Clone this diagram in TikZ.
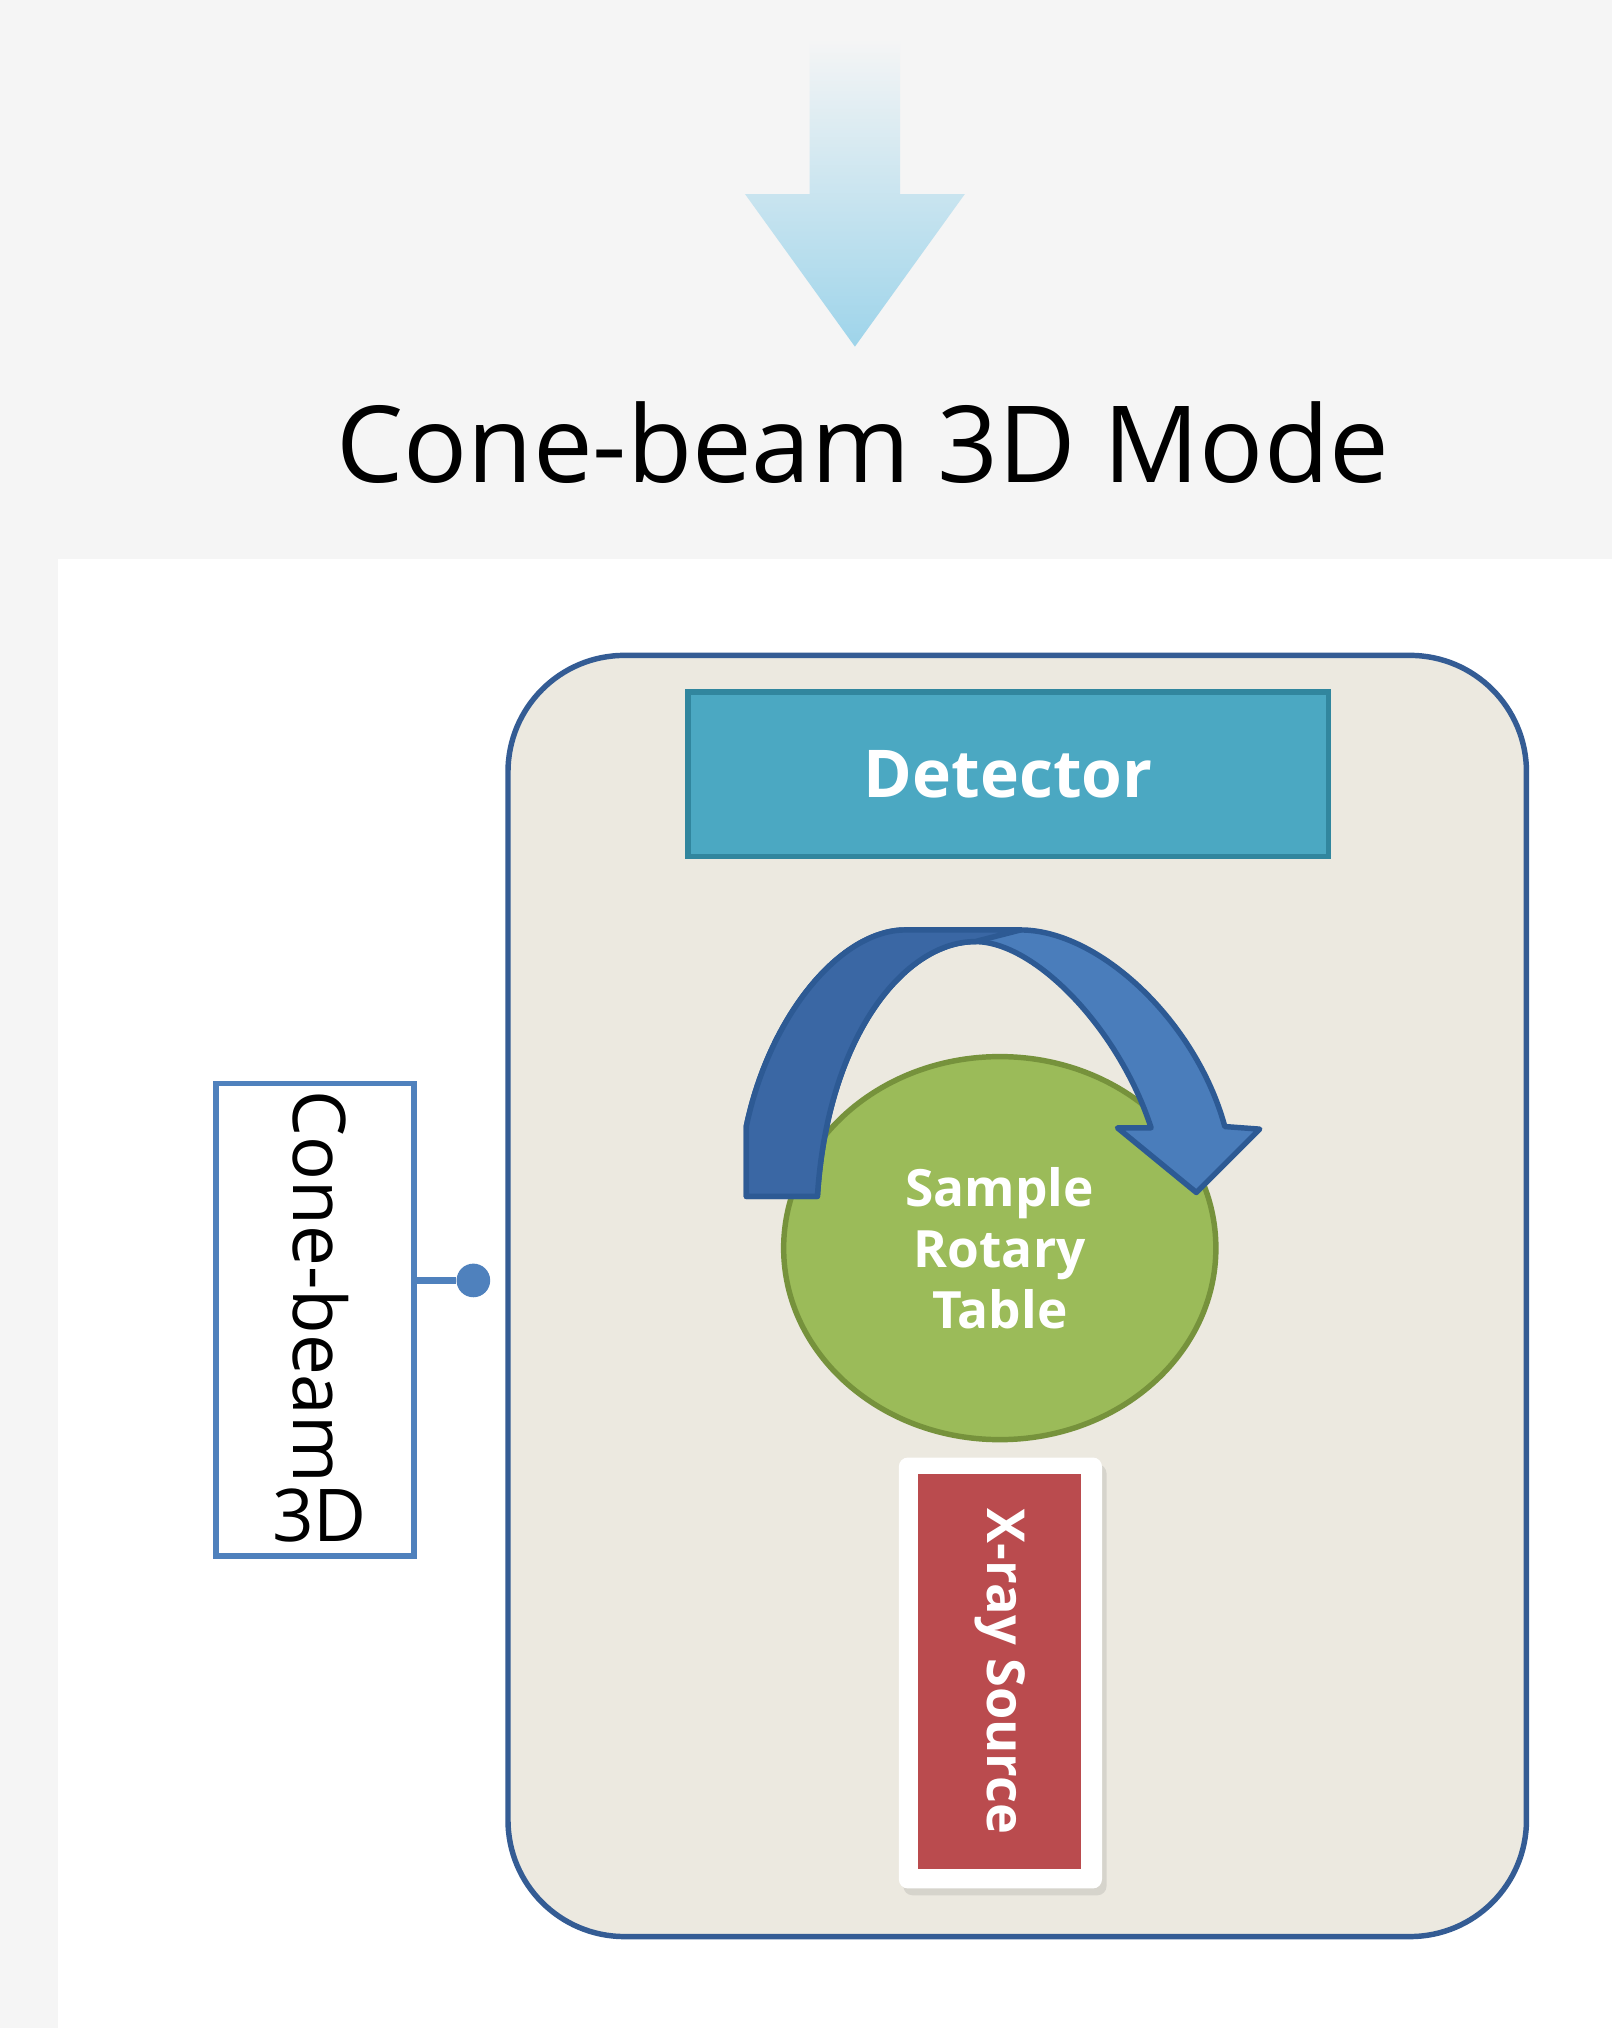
\documentclass[tikz,border=0pt]{standalone}
\usepackage{fontspec}
\setmainfont{Open Sans}
\usetikzlibrary{shapes.geometric,shadows}
\definecolor{bggray}{HTML}{F5F5F5}
\definecolor{beamblue}{HTML}{9ED4EA}
\definecolor{chamberfill}{HTML}{ECE9E0}
\definecolor{chamberline}{HTML}{345C94}
\definecolor{detfill}{HTML}{4BA8C2}
\definecolor{detline}{HTML}{31869E}
\definecolor{tablefill}{HTML}{9BBB59}
\definecolor{tableline}{HTML}{76923C}
\definecolor{rotfill}{HTML}{4A7DBB}
\definecolor{rotdark}{HTML}{3A67A4}
\definecolor{rotline}{HTML}{2D5A94}
\definecolor{srcfill}{HTML}{BA4B4E}
\definecolor{tagline}{HTML}{4F81BD}
\tikzset{
  partlabel/.style={text=white,font=\bfseries},
  thickline/.style={line width=1.2pt}
}
\begin{document}
\begin{tikzpicture}[x=0.01cm,y=-0.01cm]
	    \useasboundingbox (0,0) rectangle (1246,1568);
	    \fill[bggray] (0,0) rectangle (1246,1568);
	    \fill[white] (45,432) rectangle (1246,1568);
	    \shade[top color=bggray,bottom color=beamblue] (626,30) -- (696,30) -- (696,150) -- (746,150) -- (661,268) -- (576,150) -- (626,150) -- cycle;
	    \node[anchor=base,font=\fontsize{23.4}{28}\selectfont] (title) at (667,373) {Cone-beam 3D Mode};
	    
	    \node[thickline,draw=chamberline,fill=chamberfill,rounded corners=0.9cm,minimum width=7.87cm,minimum height=9.9cm] (chamber) at (786.5,1002) {};
	    \node[thickline,draw=detline,fill=detfill,minimum width=4.95cm,minimum height=1.27cm,partlabel,font=\fontsize{14.5}{17}\selectfont\bfseries] (detector) at (779.5,598.5) {Detector};
	    \node[thickline,ellipse,draw=tableline,fill=tablefill,minimum width=3.34cm,minimum height=2.96cm] (table) at (773,965) {};
	    \node[partlabel,align=center,font=\fontsize{11.3}{13.4}\selectfont\bfseries] (tabletext) at (773,965) {Sample\\Rotary\\Table};
	    \draw[thickline,draw=rotline,fill=rotfill,line join=round] (577,925) -- (577,871) .. controls (595,785) and (650,719) .. (700,719) -- (789,719) .. controls (850,719) and (925,790) .. (947,871) -- (974,873) -- (925,922) -- (864,872) -- (890,872) .. controls (865,795) and (800,728) .. (754,728) .. controls (700,728) and (640,800) .. (632,925) -- cycle;
	    \draw[thickline,draw=rotline,fill=rotdark,line join=round] (577,925) -- (577,871) .. controls (595,785) and (650,719) .. (700,719) -- (789,719) -- (754,728) .. controls (700,728) and (640,800) .. (632,925) -- cycle;
	    
	    \node[fill=white,rounded corners=2pt,minimum width=1.57cm,minimum height=3.33cm,drop shadow={opacity=0.2,shadow xshift=1pt,shadow yshift=-1.5pt}] (srcframe) at (773.5,1293.5) {};
	    \node[fill=srcfill,rotate=-90,minimum width=3.05cm,minimum height=1.26cm,partlabel,font=\fontsize{11.5}{14}\selectfont\bfseries] (source) at (773,1292.5) {X-ray Source};
	    
	    \node[thickline,draw=tagline,fill=white,minimum width=1.53cm,minimum height=3.65cm] (tag) at (243.5,1020.5) {};
	    \node[rotate=-90,font=\fontsize{16}{19}\selectfont] (tagtext) at (248,995) {Cone-beam};
	    \node[font=\fontsize{16}{19}\selectfont] (tagnum) at (247,1172) {3D};
	    \node[circle,fill=tagline,inner sep=0pt,minimum size=0.26cm] (dot) at (366,990) {};
	    \draw[tagline,line width=1.5pt] (dot -| tag.east) -- (dot);
	\end{tikzpicture}
\end{document}
